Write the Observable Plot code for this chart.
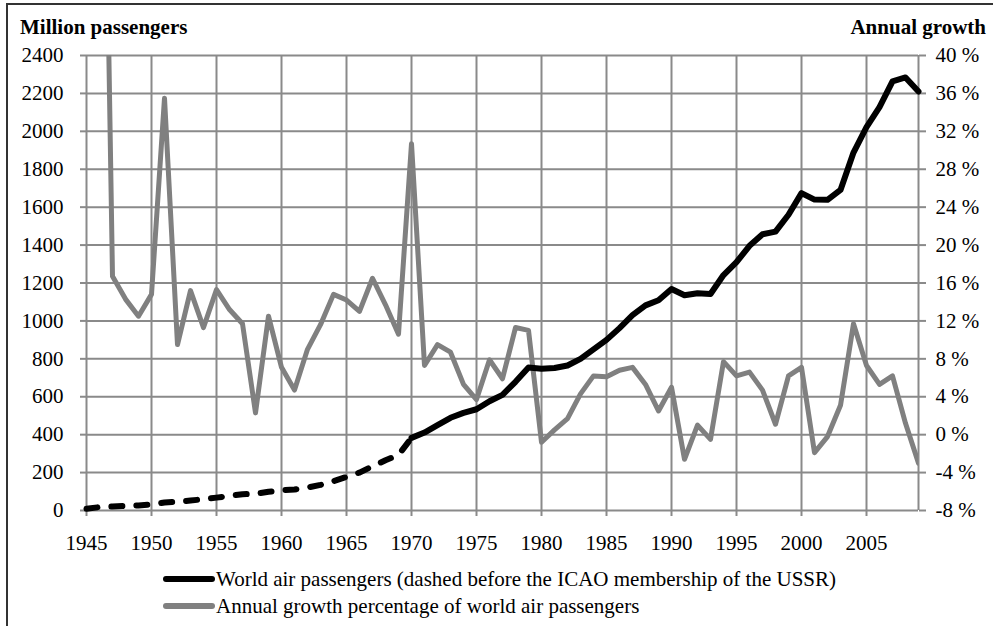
<!DOCTYPE html>
<html>
<head>
<meta charset="utf-8">
<script src="https://cdn.jsdelivr.net/npm/d3@7"></script>
<script src="https://cdn.jsdelivr.net/npm/@observablehq/plot@0.6"></script>
<style>
  html, body { margin: 0; padding: 0; background: #fff; }
  #wrap { position: relative; width: 993px; height: 626px; overflow: hidden; font-family: "Liberation Serif", "Times New Roman", Times, "Nimbus Roman", FreeSerif, "DejaVu Serif Condensed", "DejaVu Serif", serif; color: #000; }
  #frame { position: absolute; left: 6px; top: 3px; width: 1000px; height: 700px; border-left: 2px solid #333; border-top: 2px solid #333; box-sizing: border-box; }
  .ttl { position: absolute; font-weight: bold; font-size: 21px; line-height: 1; white-space: nowrap; }
  .leg { position: absolute; left: 163px; height: 30px; display: flex; align-items: center; font-size: 21px; white-space: nowrap; }
  .sw { width: 52px; height: 6px; border-radius: 3px; margin-right: 1px; }
  #chart { position: absolute; left: 0; top: 0; }
  #chart svg text { font-family: "Liberation Serif", "Times New Roman", Times, "Nimbus Roman", FreeSerif, "DejaVu Serif Condensed", "DejaVu Serif", serif; }
</style>
</head>
<body>
<div id="wrap">
  <div id="frame"></div>
  <div id="chart"></div>
  <div class="ttl" style="left:20px; top:17px;">Million passengers</div>
  <div class="ttl" style="right:7px; top:17px;">Annual growth</div>
  <div class="leg" style="top:564px;"><div class="sw" style="background:#000"></div><span>World air passengers (dashed before the ICAO membership of the USSR)</span></div>
  <div class="leg" style="top:591px;"><div class="sw" style="background:#808080"></div><span>Annual growth percentage of world air passengers</span></div>
</div>
<script>
const years = d3.range(1945, 2010);
const passengers = [9, 18, 21, 24, 27, 31, 42, 46, 53, 59,
  68, 77, 86, 88, 99, 106, 111, 121, 135, 155,
  177, 200, 233, 265, 293, 383, 411, 450, 489, 515,
  534, 576, 610, 679, 754, 748, 752, 765, 800, 850,
  900, 962, 1030, 1082, 1109, 1168, 1135, 1146, 1142, 1242,
  1310, 1396, 1457, 1471, 1560, 1674, 1640, 1639, 1691, 1888,
  2022, 2128, 2264, 2284, 2210];
const growthYears = d3.range(1946, 2010);
const growth = [100, 16.7, 14.3, 12.5, 14.8, 35.5, 9.5, 15.2, 11.3,
  15.3, 13.2, 11.7, 2.3, 12.5, 7.1, 4.7, 9.0, 11.6, 14.8,
  14.2, 13.0, 16.5, 13.7, 10.6, 30.7, 7.3, 9.5, 8.7, 5.3,
  3.7, 7.9, 5.9, 11.3, 11.0, -0.8, 0.5, 1.7, 4.3, 6.2,
  6.1, 6.8, 7.1, 5.3, 2.5, 5.0, -2.6, 1.0, -0.5, 7.7,
  6.2, 6.6, 4.7, 1.1, 6.2, 7.1, -1.9, -0.2, 3.1, 11.7,
  7.3, 5.3, 6.2, 1.2, -3.0];
const leftTicks = d3.range(0, 2401, 200);
const xTicks = d3.range(1945, 2006, 5);
const ussrYear = 1970;

const pData = years.map((y, i) => ({year: y, p: passengers[i]}));
const dashedPart = pData.filter(d => d.year <= ussrYear);
const solidPart = pData.filter(d => d.year >= ussrYear);
const gData = growthYears.map((y, i) => ({year: y, g: growth[i]}));
// right axis: -8 % .. 40 % shares the 0..2400 range
const toLeft = g => (g + 8) * 50;

const gridColor = "#8a8a8a";
const chart = Plot.plot({
  width: 993,
  height: 560,
  marginTop: 55,
  marginBottom: 50,
  marginLeft: 86,
  marginRight: 75,
  style: {fontSize: "21px", background: "transparent", color: "#000", overflow: "visible"},
  x: {domain: [1945, 2009]},
  y: {domain: [0, 2400]},
  marks: [
    Plot.gridY(leftTicks, {stroke: gridColor, strokeOpacity: 1, strokeWidth: 2}),
    Plot.gridX(xTicks, {stroke: gridColor, strokeOpacity: 1, strokeWidth: 2}),
    Plot.ruleX([2009], {y1: 0, y2: 2400, stroke: gridColor, strokeWidth: 2}),
    Plot.axisY(leftTicks, {anchor: "left", tickSize: 6, tickPadding: 17, tickFormat: d => String(d), label: null, stroke: gridColor, strokeWidth: 2, fill: "#000"}),
    Plot.axisY(leftTicks, {anchor: "right", tickSize: 7, tickPadding: 10, tickFormat: v => `${v / 50 - 8} %`, label: null, stroke: gridColor, strokeWidth: 2, fill: "#000"}),
    Plot.axisX(xTicks, {anchor: "bottom", tickSize: 6, tickPadding: 19, tickFormat: d => String(d), label: null, stroke: gridColor, strokeWidth: 2, fill: "#000"}),
    Plot.line(gData, {x: "year", y: d => toLeft(d.g), stroke: "#808080", strokeWidth: 5, strokeLinejoin: "round", strokeLinecap: "round", clip: true}),
    Plot.line(dashedPart, {x: "year", y: "p", stroke: "#000", strokeWidth: 6, strokeDasharray: "11,14", strokeLinecap: "round", strokeLinejoin: "round"}),
    Plot.line(solidPart, {x: "year", y: "p", stroke: "#000", strokeWidth: 6, strokeLinecap: "round", strokeLinejoin: "round"})
  ]
});
document.getElementById("chart").appendChild(chart);
</script>
</body>
</html>
